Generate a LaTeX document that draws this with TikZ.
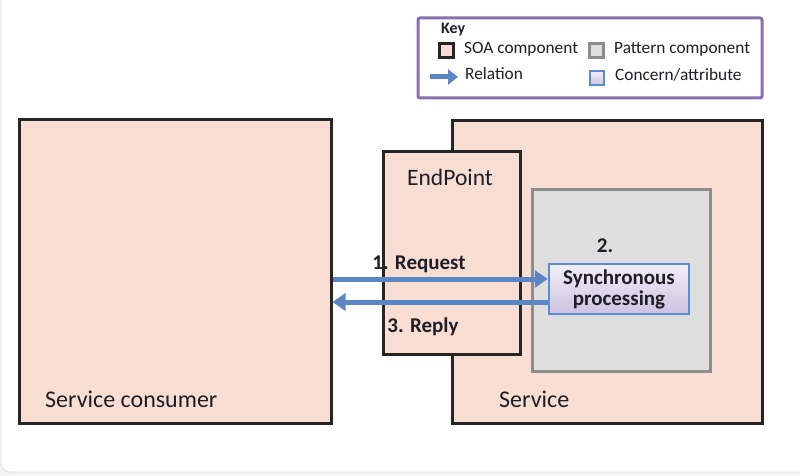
\documentclass[tikz,border=0pt]{standalone}
\usepackage{fontspec}
\setmainfont{Carlito}
\usetikzlibrary{arrows.meta}
\definecolor{peach}{HTML}{F8DED2}
\definecolor{patfill}{HTML}{DEDEDE}
\definecolor{patline}{HTML}{8C8C8C}
\definecolor{relblue}{HTML}{5A86C5}
\definecolor{keypurple}{HTML}{8A6FB0}
\definecolor{syncline}{HTML}{5B8BD0}
\definecolor{lavtop}{HTML}{F2EEF7}
\definecolor{lavbot}{HTML}{CDC3E0}
\definecolor{txt}{HTML}{1E1E28}
\tikzset{
  soabox/.style={draw=black!85, line width=3pt, fill=peach, inner sep=0pt},
  patbox/.style={draw=patline, line width=3pt, fill=patfill, inner sep=0pt},
  concbox/.style={draw=syncline, line width=2.5pt, top color=lavtop, bottom color=lavbot, inner sep=0pt},
  rel/.style={draw=relblue, line width=5pt, -{Triangle[length=13pt,width=17pt]}},
  bigtxt/.style={text=txt, font=\fontsize{24}{28}\selectfont, inner sep=0pt, anchor=base west},
  lbl/.style={text=txt, font=\bfseries\fontsize{21}{21}\selectfont, inner sep=0pt, anchor=base},
  keytxt/.style={text=txt, font=\fontsize{17.3}{20}\selectfont, inner sep=0pt, anchor=base west},
}
\begin{document}
\begin{tikzpicture}[x=1pt,y=-1pt]
\useasboundingbox (0,0) rectangle (800,476);
\fill[gray!9] (0,0) rectangle (800,476);
\draw[gray!20, fill=white, rounded corners=9pt, line width=1pt] (1,-12) rectangle (812,472);

% key
\node[draw=keypurple, line width=3pt, fill=white, rounded corners=2pt, minimum width=344pt, minimum height=80pt, inner sep=0pt] (key) at (590,58) {};
\node[text=txt, font=\bfseries\fontsize{16}{18}\selectfont, inner sep=0pt, anchor=base west] (keyt) at (441,34) {Key};
\node[soabox, line width=3pt, minimum width=14pt, minimum height=14pt] (ksoa) at (446,51) {};
\node[keytxt] (ksoat) at (464,54) {SOA component};
\node[patbox, line width=3pt, minimum width=14pt, minimum height=14pt] (kpat) at (596,51) {};
\node[keytxt] (kpatt) at (614,54) {Pattern component};
\coordinate (krs) at (430,77);
\coordinate (kre) at (458,77);
\draw[draw=relblue, line width=5pt, -{Triangle[length=10pt,width=15pt]}] (krs) -- (kre);
\node[keytxt] (krelt) at (465,80) {Relation};
\node[concbox, line width=2.5pt, minimum width=14pt, minimum height=14pt] (kcon) at (597,78) {};
\node[keytxt] (kcont) at (615,81) {Concern/attribute};

% main boxes
\node[soabox, minimum width=312pt, minimum height=303pt] (consumer) at (175,271.5) {};
\node[soabox, minimum width=310pt, minimum height=302pt] (service) at (607,272) {};
\node[soabox, minimum width=137pt, minimum height=203pt] (endpoint) at (451.5,252.5) {};
\node[patbox, minimum width=178pt, minimum height=182pt] (pattern) at (621,280) {};
\node[concbox, minimum width=140pt, minimum height=50pt, text=txt, font=\bfseries\fontsize{21}{21}\selectfont, align=center] (sync) at (619,289) {Synchronous\\processing};

\node[bigtxt] (consumert) at (45,407) {Service consumer};
\node[bigtxt] (servicet) at (499,407) {Service};
\node[text=txt, font=\fontsize{23.5}{28}\selectfont, inner sep=0pt, anchor=base] (endpointt) at (450,185) {EndPoint};

% relations
\draw[rel] (consumer.east |- 0,279) -- (sync.west |- 0,279);
\draw[rel] (sync.west |- 0,302) -- (consumer.east |- 0,302);

\node[lbl] (reqt) at (419,269) {1. Request};
\node[lbl] (rept) at (423,332) {3. Reply};
\node[lbl] (twot) at (605,252) {2.};
\end{tikzpicture}
\end{document}
